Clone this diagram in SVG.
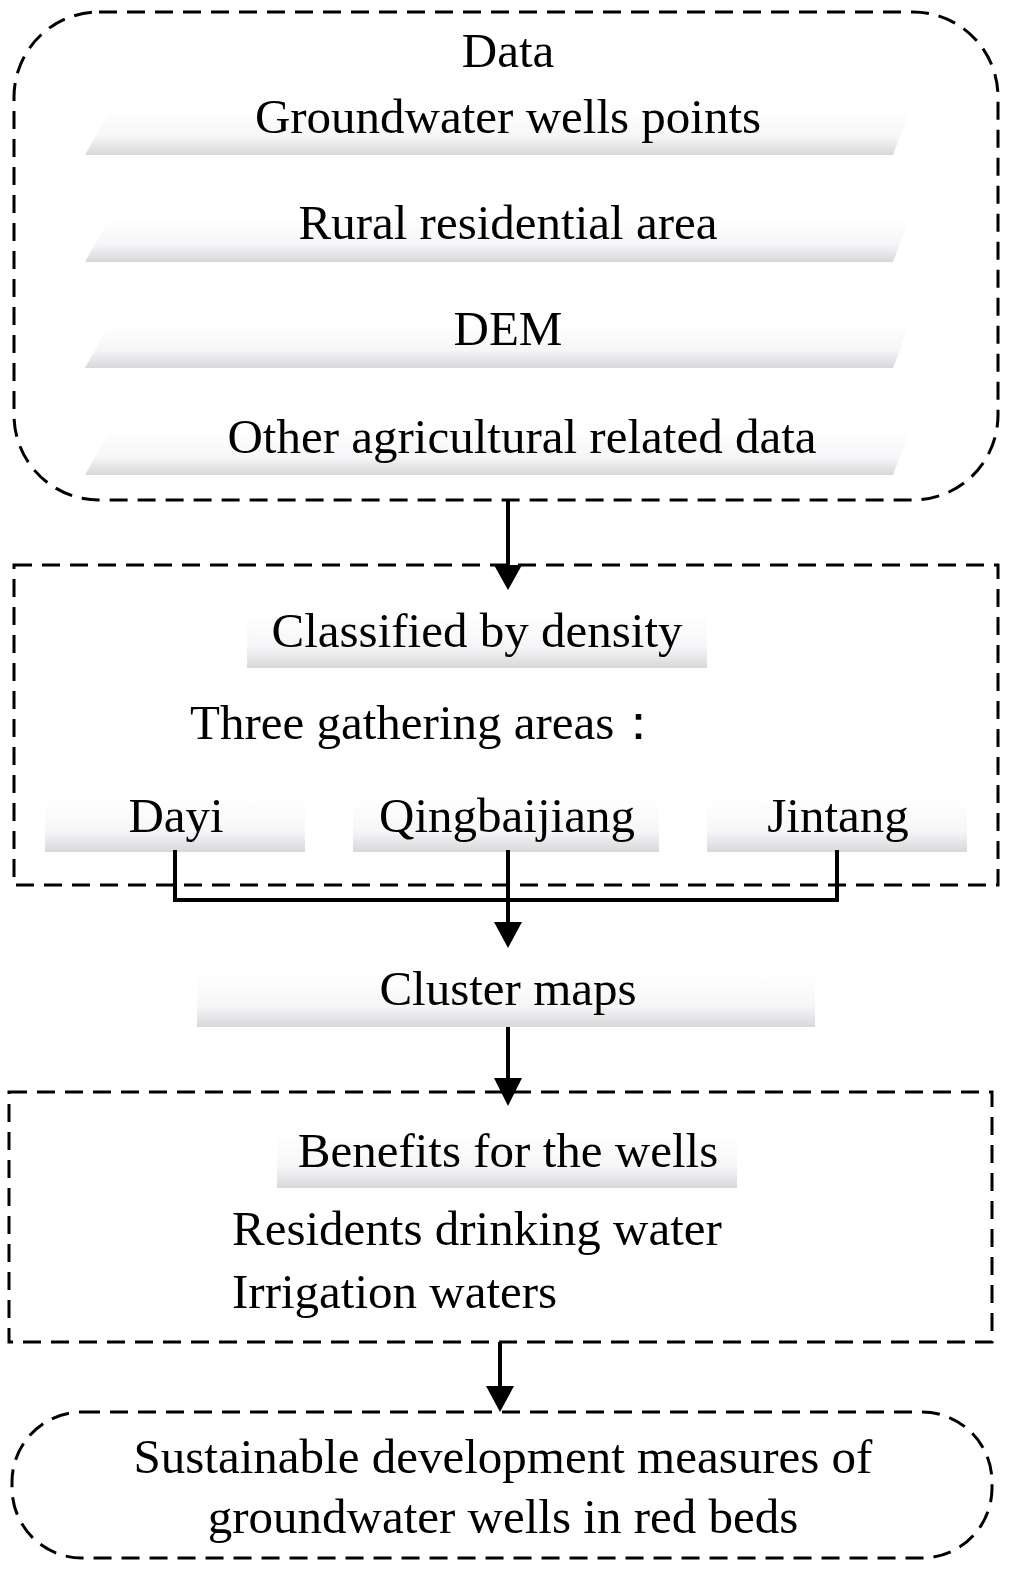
<svg xmlns="http://www.w3.org/2000/svg" width="1024" height="1586" viewBox="0 0 1024 1586">
<style>
.box{fill:none;stroke:#000;stroke-width:3;stroke-dasharray:18,10}
.t{font-family:"Liberation Serif",serif;font-size:49px;fill:#000}
.c{text-anchor:middle}
.bar{fill:url(#g)}
.ln{fill:none;stroke:#000;stroke-width:4}
</style>
<defs>
<linearGradient id="g" x1="0" y1="0" x2="0" y2="1">
<stop offset="0" stop-color="#fff"/><stop offset="0.6" stop-color="#f6f6f8"/><stop offset="1" stop-color="#d8d8da"/>
</linearGradient>
</defs>
<g id="data">
<rect class="box" x="14" y="12" width="984" height="488" rx="85"/>
<polygon class="bar" points="110,110 910,110 893,155 85,155"/>
<polygon class="bar" points="110,217 910,217 893,262 85,262"/>
<polygon class="bar" points="110,323 910,323 893,368 85,368"/>
<polygon class="bar" points="110,430 910,430 893,475 85,475"/>
<text class="t c" x="508" y="67">Data</text>
<text class="t c" x="508" y="133">Groundwater wells points</text>
<text class="t c" x="508" y="239">Rural  residential area</text>
<text class="t c" x="508" y="345">DEM</text>
<text class="t c" x="522" y="453">Other agricultural related data</text>
</g>
<g id="classified">
<rect class="box" x="14" y="565" width="984" height="320"/>
<rect class="bar" x="247" y="615" width="460" height="53"/>
<text class="t c" x="477" y="647">Classified by density</text>
<text class="t" x="190" y="739">Three gathering areas：</text>
</g>
<g id="dayi"><rect class="bar" x="45" y="800" width="260" height="52"/><text class="t c" x="176" y="832">Dayi</text></g>
<g id="qing"><rect class="bar" x="353" y="800" width="306" height="52"/><text class="t c" x="507" y="832">Qingbaijiang</text></g>
<g id="jintang"><rect class="bar" x="707" y="800" width="260" height="52"/><text class="t c" x="838" y="832">Jintang</text></g>
<g id="cluster"><rect class="bar" x="197" y="975" width="618" height="52"/><text class="t c" x="508" y="1005">Cluster maps</text></g>
<g id="benefits">
<rect class="box" x="9" y="1092" width="983" height="250"/>
<rect class="bar" x="277" y="1135" width="460" height="53"/>
<text class="t c" x="508" y="1167">Benefits for the wells</text>
<text class="t" x="232" y="1245">Residents drinking water</text>
<text class="t" x="232" y="1308">Irrigation waters</text>
</g>
<g id="sustain">
<rect class="box" x="12" y="1412" width="980" height="146" rx="70"/>
<text class="t c" x="503" y="1473">Sustainable development measures of</text>
<text class="t c" x="503" y="1533">groundwater wells in red beds</text>
</g>
<g id="connectors">
<path class="ln" d="M508,500V570"/>
<path d="M494,565L522,565L508,590z"/>
<path class="ln" d="M175,850V900H837V850M508,850V925"/>
<path d="M494,922L522,922L508,948z"/>
<path class="ln" d="M508,1027V1080"/>
<path d="M494,1078L522,1078L508,1106z"/>
<path class="ln" d="M500,1342V1390"/>
<path d="M486,1386L514,1386L500,1412z"/>
</g>
</svg>
